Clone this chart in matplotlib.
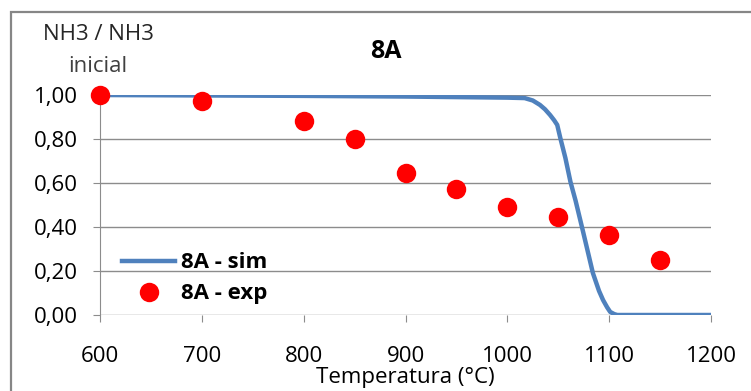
import matplotlib.pyplot as plt
from matplotlib.patches import Rectangle

plt.rcParams['font.family'] = ['Open Sans', 'DejaVu Sans']

# experimental points
t_exp = [600, 700, 800, 850, 900, 950, 1000, 1050, 1100, 1150]
y_exp = [1.00, 0.973, 0.882, 0.80, 0.645, 0.573, 0.49, 0.445, 0.364, 0.25]

# simulation curve
t_sim = [600, 700, 800, 900, 1000, 1017, 1025, 1032, 1037, 1042, 1046, 1049,
         1052, 1057, 1062, 1067, 1074, 1084, 1090, 1094, 1098, 1101, 1105,
         1108, 1150, 1200]
y_sim = [1.00, 0.998, 0.996, 0.993, 0.988, 0.986, 0.975, 0.955, 0.935, 0.909,
         0.885, 0.864, 0.805, 0.714, 0.605, 0.52, 0.386, 0.191, 0.11, 0.068,
         0.035, 0.014, 0.004, 0.0, 0.0, 0.0]

xticks = [600, 700, 800, 900, 1000, 1100, 1200]
yticks = [0.0, 0.2, 0.4, 0.6, 0.8, 1.0]
ylabels = ['0,00', '0,20', '0,40', '0,60', '0,80', '1,00']

W, H = 751, 391
fig = plt.figure(figsize=(W / 100, H / 100), dpi=100)
ax = fig.add_axes([100 / W, 1 - 315 / H, 611 / W, 220 / H])

# outer chart border
fig.patches.append(Rectangle((11 / W, -0.1), 1.2, 1 - 12 / H + 0.1,
                             transform=fig.transFigure, fill=False,
                             edgecolor='#868686', linewidth=1.6))

grey = '#8c8c8c'
ax.plot(t_sim, y_sim, color='#4F81BD', lw=3.2, label='8A - sim', zorder=3,
        solid_joinstyle='round')
ax.plot(t_exp, y_exp, 'o', color='#FF0000', ms=14, mec='none',
        label='8A - exp', zorder=4, clip_on=False)

ax.set_xlim(600, 1200)
ax.set_ylim(0, 1)
ax.set_xticks(xticks)
ax.set_yticks(yticks)
ax.set_yticklabels(ylabels)
ax.grid(axis='y', color=grey, lw=1)
ax.set_axisbelow(True)
for s in ['top', 'right', 'bottom']:
    ax.spines[s].set_visible(False)
ax.spines['left'].set_color(grey)
ax.tick_params(axis='x', direction='out', length=5, color=grey, pad=17,
               labelsize=16)
ax.tick_params(axis='y', direction='out', length=5, color=grey, pad=11,
               labelsize=16)

ax.set_xlabel('Temperatura (°C)', fontsize=16, labelpad=0)
fig.text(98 / W, 1 - 35 / H, 'NH3 / NH3', ha='center', va='center',
         fontsize=16, color='#262626')
fig.text(98 / W, 1 - 66 / H, 'inicial', ha='center', va='center',
         fontsize=16, color='#404040')
fig.text(386 / W, 1 - 52 / H, '8A', ha='center', va='center',
         fontsize=18, fontweight='bold')

leg = ax.legend(loc='center left', bbox_to_anchor=(122 / W, 1 - 278.5 / H),
                bbox_transform=fig.transFigure, frameon=False,
                borderpad=0, borderaxespad=0, handlelength=2.4,
                handletextpad=0.25, labelspacing=0.45,
                prop={'size': 16, 'weight': 'bold'})

fig.savefig('out.png', dpi=100)
